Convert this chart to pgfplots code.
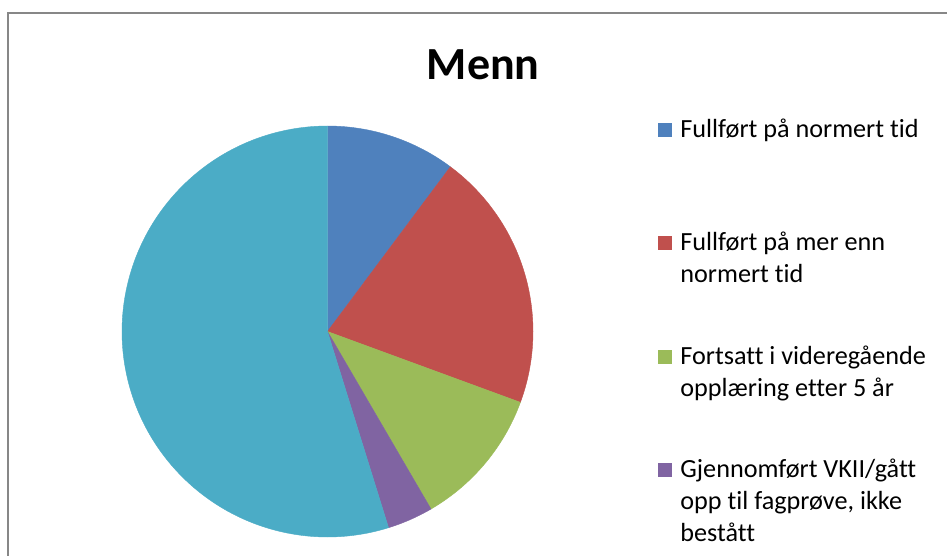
\documentclass[border=0pt]{standalone}
\usepackage{pgfplots}
\pgfplotsset{compat=1.18}
\usepackage{pgfplotstable}
\usepackage{fontspec}
\setmainfont{Carlito}[Ligatures={NoCommon,NoRare,NoContextual}]
\definecolor{cA}{HTML}{4F81BD}
\definecolor{cB}{HTML}{C0504D}
\definecolor{cC}{HTML}{9BBB59}
\definecolor{cD}{HTML}{8064A2}
\definecolor{cE}{HTML}{4BACC6}
\definecolor{borderc}{HTML}{878787}
\pgfplotstableread{
share
10.2
20.4
11.0
3.6
54.8
}\piedata
\begin{document}
\begin{tikzpicture}[x=0.5pt,y=-0.5pt]
\useasboundingbox (0,0) rectangle (947,556);
\fill[white] (0,0) rectangle (947,556);
\draw[color=borderc, line width=1.1pt] (8,600) -- (8,13) -- (990,13);
\begin{axis}[at={(163.75pt,-165.75pt)}, anchor=center,
  x=102.75pt, y=102.75pt, xmin=-1, xmax=1, ymin=-1, ymax=1,
  hide axis, clip=false]
\gdef\cum{0}
\foreach \i/\col in {0/cA,1/cB,2/cC,3/cD,4/cE}{
  \pgfplotstablegetelem{\i}{share}\of\piedata
  \pgfmathsetmacro\a{90-3.6*\cum}
  \pgfmathsetmacro\n{\cum+\pgfplotsretval}
  \pgfmathsetmacro\b{90-3.6*\n}
  \xdef\cum{\n}
  \edef\tmp{\noexpand\addplot[fill=\col, draw=\col, line width=0.2pt, domain=\b:\a, samples=150] ({cos(x)},{sin(x)}) -- (axis cs:0,0) -- cycle;}
  \tmp
}
\end{axis}
\node[anchor=base, font=\fontsize{23}{27}\selectfont\bfseries] at (483.3,80) {Menn};
\begin{scope}[every node/.style={anchor=base west, inner sep=0pt, font=\fontsize{13.1}{15.75}\selectfont}]
\fill[cA] (658,123) rectangle (672,137);
\node at (680,137.5) {Fullført på normert tid};
\fill[cB] (658,236) rectangle (672,250);
\node at (680,250.5) {Fullført på mer enn};
\node at (680,282) {normert tid};
\fill[cC] (658,350) rectangle (672,364);
\node at (680,364.5) {Fortsatt i videregående};
\node at (680,396) {opplæring etter 5 år};
\fill[cD] (658,463) rectangle (672,477);
\node at (680,477.5) {Gjennomført VKII/gått};
\node at (680,509.5) {opp til fagprøve, ikke};
\node at (680,541.5) {bestått};
\end{scope}
\end{tikzpicture}
\end{document}
